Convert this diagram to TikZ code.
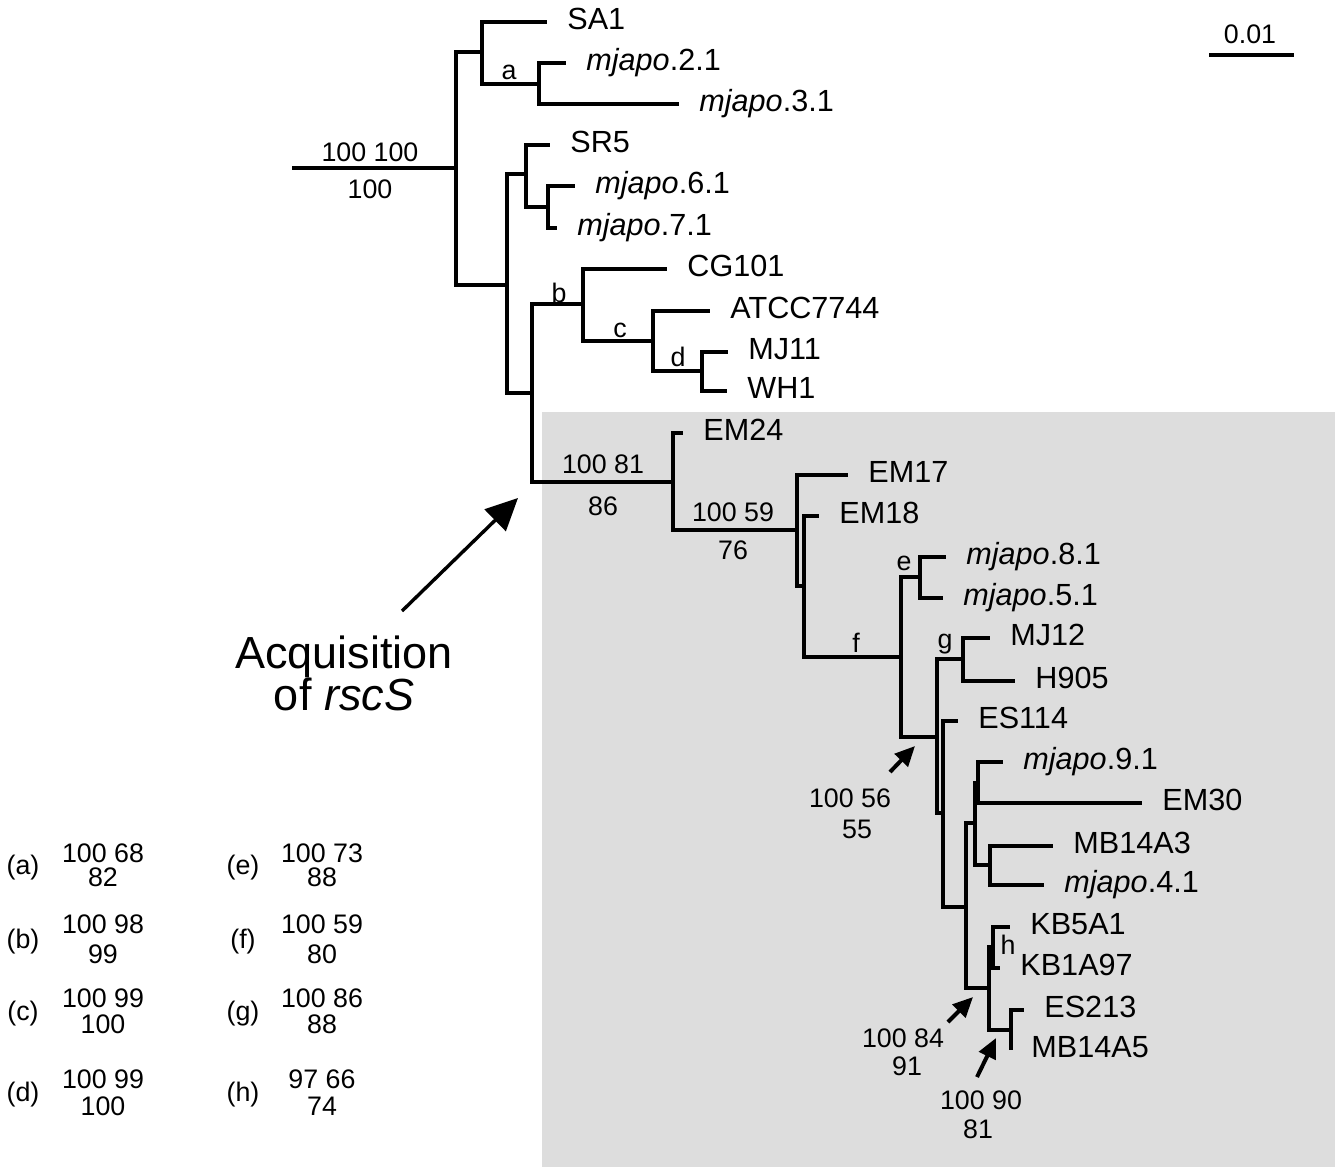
\documentclass[tikz,border=0pt]{standalone}
\usepackage{fontspec}
\setmainfont{Liberation Sans}
\usetikzlibrary{arrows.meta}
\definecolor{cladeBG}{HTML}{DDDDDD}
\tikzset{
  br/.style={line width=1.75pt},
  leaf/.style={anchor=west,inner xsep=10pt,inner ysep=0pt,text height=0.72em,text depth=0pt,font=\fontsize{15.3}{18}\selectfont},
  bs/.style={anchor=base,inner sep=0pt,font=\fontsize{13.4}{16}\selectfont},
  ptr/.style={-{Triangle[length=10pt,width=9pt]},line width=2pt}
}
\begin{document}
\begin{tikzpicture}[x=0.5pt,y=-0.5pt]
\useasboundingbox (0,0) rectangle (1342,1167);
\fill[cladeBG](542,412)rectangle(1335,1167);
% internal nodes
\coordinate (rt) at (292,168);\coordinate (n1) at (456,168);
\coordinate (nA) at (482,52);\coordinate (na) at (539,84);
\coordinate (nB) at (507,285);\coordinate (nS) at (526,174);\coordinate (n67) at (548,207);
\coordinate (nC) at (532,393);\coordinate (nb) at (583,304);\coordinate (nc) at (653,341);\coordinate (nd) at (702,371);
\coordinate (nEM) at (673,482);\coordinate (nE2) at (797,530);\coordinate (nE3) at (804,586);
\coordinate (nf) at (901,657);\coordinate (ne) at (920,577);\coordinate (nx) at (937,737);\coordinate (ng) at (963,659);
\coordinate (ny) at (943,813);\coordinate (nz) at (966,907);\coordinate (nw) at (975,823);\coordinate (nv) at (978,783);
\coordinate (nu) at (990,865);\coordinate (nt) at (989,988);\coordinate (nh) at (993,947);\coordinate (ns) at (1011,1030);
% leaves
\node[leaf] (SA1) at (547,22) {SA1};
\node[leaf] (mj2) at (566,63) {\textit{mjapo}.2.1};
\node[leaf] (mj3) at (679,104) {\textit{mjapo}.3.1};
\node[leaf] (SR5) at (550,145) {SR5};
\node[leaf] (mj6) at (575,186) {\textit{mjapo}.6.1};
\node[leaf] (mj7) at (557,228) {\textit{mjapo}.7.1};
\node[leaf] (CG) at (667,269) {CG101};
\node[leaf] (ATCC) at (710,311) {ATCC7744};
\node[leaf] (MJ11) at (728,352) {MJ11};
\node[leaf] (WH1) at (727,391) {WH1};
\node[leaf] (EM24) at (683,433) {EM24};
\node[leaf] (EM17) at (848,475) {EM17};
\node[leaf] (EM18) at (819,516) {EM18};
\node[leaf] (mj8) at (946,557) {\textit{mjapo}.8.1};
\node[leaf] (mj5) at (943,598) {\textit{mjapo}.5.1};
\node[leaf] (MJ12) at (990,638) {MJ12};
\node[leaf] (H905) at (1015,681) {H905};
\node[leaf] (ES114) at (958,721) {ES114};
\node[leaf] (mj9) at (1003,762) {\textit{mjapo}.9.1};
\node[leaf] (EM30) at (1142,803) {EM30};
\node[leaf] (MB3) at (1053,846) {MB14A3};
\node[leaf] (mj4) at (1044,885) {\textit{mjapo}.4.1};
\node[leaf] (KB5) at (1010,927) {KB5A1};
\node[leaf] (KB1) at (1000,968) {KB1A97};
\node[leaf] (ES213) at (1024,1010) {ES213};
\node[leaf] (MB5) at (1011,1050) {MB14A5};
% branches
\draw[br] (rt) -- (n1);
\foreach \p/\c in {n1/nA,n1/nB,nA/na,nB/nS,nB/nC,nS/n67,nC/nb,nC/nEM,nb/nc,nc/nd,nEM/nE2,nE2/nE3,nE3/nf,nf/ne,nf/nx,nx/ng,nx/ny,ny/nz,nz/nw,nz/nt,nw/nv,nw/nu,nt/nh,nt/ns}
  \draw[br] (\p) |- (\c);
\foreach \p/\c in {nA/SA1,na/mj2,na/mj3,nS/SR5,n67/mj6,n67/mj7,nb/CG,nc/ATCC,nd/MJ11,nd/WH1,nEM/EM24,nE2/EM17,nE3/EM18,ne/mj8,ne/mj5,ng/MJ12,ng/H905,ny/ES114,nv/mj9,nv/EM30,nu/MB3,nu/mj4,nh/KB5,nh/KB1,ns/ES213,ns/MB5}
  \draw[br] (\p) |- (\c.west);
% support values
\node[bs] (s1a) at (370,161) {100 100};\node[bs] (s1b) at (370,198) {100};
\node[bs] (la) at (509,79) {a};\node[bs] (lb) at (559,302) {b};
\node[bs] (lc) at (620,337) {c};\node[bs] (ld) at (678,366) {d};
\node[bs] (s2a) at (603,473) {100 81};\node[bs] (s2b) at (603,515) {86};
\node[bs] (s3a) at (733,521) {100 59};\node[bs] (s3b) at (733,559) {76};
\node[bs] (le) at (904,570) {e};\node[bs] (lf) at (856,652) {f};
\node[bs] (lg) at (945,648) {g};\node[bs] (lh) at (1008,954) {h};
\node[bs] (s4a) at (850,807) {100 56};\node[bs] (s4b) at (857,838) {55};
\node[bs] (s5a) at (903,1047) {100 84};\node[bs] (s5b) at (907,1075) {91};
\node[bs] (s6a) at (981,1109) {100 90};\node[bs] (s6b) at (978,1138) {81};
% pointers
\coordinate (p1t) at (890,772);\coordinate (p1h) at (915,746);
\coordinate (p2t) at (948,1022);\coordinate (p2h) at (973,997);
\coordinate (p3t) at (977,1077);\coordinate (p3h) at (996,1038);
\draw[ptr] (p1t) -- (p1h);\draw[ptr] (p2t) -- (p2h);\draw[ptr] (p3t) -- (p3h);
% acquisition
\node[font=\fontsize{22.5}{21}\selectfont,align=center,inner sep=0pt] (acq) at (344,673) {Acquisition\\of \textit{rscS}};
\coordinate (acqt) at (402,611);\coordinate (acqh) at (518,498);
\draw[-{Triangle[length=16pt,width=15pt]},line width=1.7pt] (acqt) -- (acqh);
% scale bar
\node[bs] (sc) at (1250,43) {0.01};
\coordinate (scL) at (1209,55);\coordinate (scR) at (1294,55);
\draw[br] (scL) -- (scR);
% legend
\foreach \l/\s/\t/\ya/\yb/\xl/\xs in {a/100 68/82/862/886/23/103,b/100 98/99/933/963/23/103,c/100 99/100/1007/1033/23/103,d/100 99/100/1088/1115/23/103,e/100 73/88/862/886/243/322,f/100 59/80/933/963/243/322,g/100 86/88/1007/1033/243/322,h/97 66/74/1088/1115/243/322}{
  \node[bs] (k\l) at (\xl,{(\ya+\yb)/2}) {(\l)};
  \node[bs] (k\l1) at (\xs,\ya) {\s};
  \node[bs] (k\l2) at (\xs,\yb) {\t};
}
\end{tikzpicture}
\end{document}
